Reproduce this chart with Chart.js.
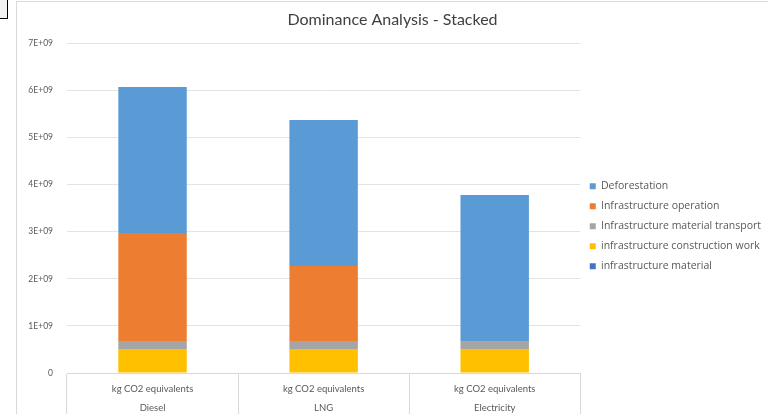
<!DOCTYPE html>
<html>
<head>
<meta charset="utf-8">
<script src="https://cdn.jsdelivr.net/npm/chart.js@4.4.1/dist/chart.umd.min.js"></script>
<style>
  html, body { margin: 0; padding: 0; background: #fff; }
  body { width: 768px; height: 414px; position: relative; overflow: hidden; }
  #cell { position: absolute; left: 0; top: 0; width: 7px; height: 18px; background: #f2f2f2; border-right: 1px solid #000; border-bottom: 1px solid #000; }
  #frame { position: absolute; left: 16px; top: 1px; width: 760px; height: 420px; border: 1px solid #d9d9d9; box-sizing: border-box; }
  #wrap { position: absolute; left: 17px; top: 2px; width: 751px; height: 412px; }
</style>
</head>
<body>
<div id="cell"></div>
<div id="frame"></div>
<div id="wrap"><canvas id="chart"></canvas></div>
<script>
const categories = [
    ['kg CO2 equivalents', 'Diesel'],
    ['kg CO2 equivalents', 'LNG'],
    ['kg CO2 equivalents', 'Electricity']
];

// stacked bottom to top
const infraMaterial = [0, 0, 0];
const constructionWork = [0.51e9, 0.51e9, 0.51e9];
const materialTransport = [0.17e9, 0.17e9, 0.17e9];
const infraOperation = [2.29e9, 1.59e9, 0];
const deforestation = [3.10e9, 3.10e9, 3.10e9];

const yMax = 7e9;
const yStep = 1e9;

const ctx = document.getElementById('chart').getContext('2d');

const config = {
    type: 'bar',
    data: {
        labels: categories,
        datasets: [{
            label: 'infrastructure material',
            backgroundColor: '#4472C4',
            data: infraMaterial
        }, {
            label: 'infrastructure construction work',
            backgroundColor: '#FFC000',
            data: constructionWork
        }, {
            label: 'Infrastructure material transport',
            backgroundColor: '#A5A5A5',
            data: materialTransport
        }, {
            label: 'Infrastructure operation',
            backgroundColor: '#ED7D31',
            data: infraOperation
        }, {
            label: 'Deforestation',
            backgroundColor: '#5B9BD5',
            data: deforestation
        }]
    },
    options: {
        responsive: true,
        maintainAspectRatio: false,
        animation: false,
        datasets: {
            bar: { categoryPercentage: 1, barPercentage: 0.4 }
        },
        scales: {
            x: {
                stacked: true,
                offset: true,
                grid: {
                    offset: true,
                    drawOnChartArea: false,
                    tickLength: 41,
                    color: '#d9d9d9'
                },
                border: { display: true, color: '#d9d9d9' },
                ticks: {
                    color: '#595959',
                    padding: -35,
                    maxRotation: 0,
                    font: { family: 'Lato', size: 9.5, lineHeight: 2.05 }
                },
                afterFit: scale => { scale.height = 41; }
            },
            y: {
                stacked: true,
                min: 0,
                max: yMax,
                grid: { color: '#e3e3e3', drawTicks: false },
                border: { display: false },
                ticks: {
                    stepSize: yStep,
                    color: '#595959',
                    padding: 14,
                    font: { family: 'Lato', size: 8.5 },
                    callback: v => v === 0 ? '0' : (v / 1e9) + 'E+09'
                },
                afterFit: scale => { scale.width = 50; }
            }
        },
        plugins: {
            title: {
                display: true,
                text: 'Dominance Analysis - Stacked',
                color: '#404040',
                font: { family: 'Lato', size: 16, weight: 'normal' },
                padding: { top: 8, bottom: 14 }
            },
            legend: {
                position: 'right',
                reverse: true,
                title: { display: true, text: '', padding: 11 },
                labels: {
                    color: '#595959',
                    boxWidth: 6,
                    boxHeight: 6,
                    padding: 9.5,
                    font: { family: 'Open Sans', size: 10.5 }
                }
            },
            tooltip: { enabled: false }
        }
    }
};

const chart = new Chart(ctx, config);
</script>
</body>
</html>
